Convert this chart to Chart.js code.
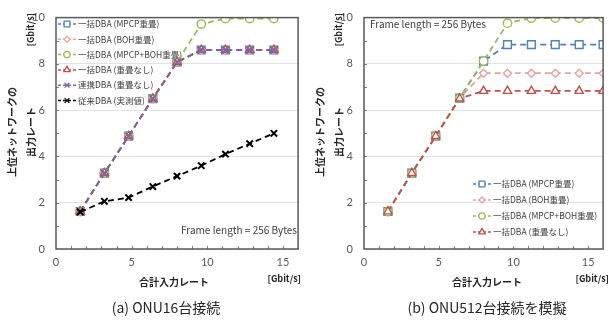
<!DOCTYPE html>
<html>
<head>
<meta charset="utf-8">
<script src="https://cdn.jsdelivr.net/npm/chart.js@4"></script>
<style>
  html, body { margin: 0; padding: 0; background: #fff; }
  #wrap { position: relative; width: 610px; height: 320px; overflow: hidden; }
  canvas { position: absolute; top: 0; }
</style>
</head>
<body>
<div id="wrap">
  <canvas id="c1" width="305" height="320" style="left:0"></canvas>
  <canvas id="c2" width="305" height="320" style="left:305px"></canvas>
</div>
<script>
// 合計入力レート [Gbit/s]
const xLeft = [1.6, 3.2, 4.8, 6.4, 8.0, 9.6, 11.2, 12.8, 14.4];
const xRight = [1.6, 3.2, 4.8, 6.4, 8.0, 9.6, 11.2, 12.8, 14.4, 16.0];

const names = [
  "一括DBA (MPCP重畳)",
  "一括DBA (BOH重畳)",
  "一括DBA (MPCP+BOH重畳)",
  "一括DBA (重畳なし)",
  "連携DBA (重畳なし)",
  "従来DBA (実測値)",
];

// (a) ONU16台接続
const leftMpcp = [1.62, 3.28, 4.88, 6.5, 8.08, 8.6, 8.6, 8.6, 8.6];
const leftBoh = [1.62, 3.28, 4.88, 6.5, 8.08, 8.6, 8.6, 8.6, 8.6];
const leftBoth = [1.62, 3.28, 4.88, 6.5, 8.08, 9.72, 9.96, 9.96, 9.96];
const leftNone = [1.62, 3.28, 4.88, 6.5, 8.08, 8.6, 8.6, 8.6, 8.6];
const leftCoop = [1.62, 3.28, 4.88, 6.5, 8.08, 8.6, 8.6, 8.6, 8.6];
const leftLegacy = [1.6, 2.06, 2.22, 2.7, 3.15, 3.6, 4.1, 4.55, 5.0];

// (b) ONU512台接続を模擬
const rightMpcp = [1.62, 3.28, 4.88, 6.52, 8.12, 8.83, 8.83, 8.83, 8.83, 8.83];
const rightBoh = [1.62, 3.28, 4.88, 6.52, 7.6, 7.6, 7.6, 7.6, 7.6, 7.6];
const rightBoth = [1.62, 3.28, 4.88, 6.52, 8.12, 9.76, 9.98, 9.98, 9.98, 9.98];
const rightNone = [1.62, 3.28, 4.88, 6.5, 6.83, 6.83, 6.83, 6.83, 6.83, 6.83];

const xTicks = [0, 5, 10, 15];
const yTicks = [0, 2, 4, 6, 8, 10];

const colors = ["#4F81BD", "#E6A3A3", "#9BBB59", "#C0504D", "#8064A2", "#000000"];
const marks = ["rect", "rectRot", "circle", "triangle", "crossRot", "crossRot"];
const sizes = [5.5, 4, 4.2, 4.8, 4.5, 4.5];

function series(xs, ys, i, n) {
  return {
    label: names[i],
    data: xs.map((x, k) => ({ x: x, y: ys[k] })),
    borderColor: colors[i],
    backgroundColor: colors[i],
    borderWidth: 1.8,
    borderDash: [6, 4],
    pointStyle: marks[i],
    pointRadius: sizes[i],
    pointBorderWidth: i >= 4 ? 2 : 1.4,
    pointBackgroundColor: "#ffffff",
    pointBorderColor: colors[i],
    order: n - i,
  };
}

function vtext(ctx, s, x, y, align) {
  ctx.save();
  ctx.translate(x, y);
  ctx.rotate(-Math.PI / 2);
  ctx.textAlign = align;
  ctx.fillText(s, 0, 0);
  ctx.restore();
}

const decor = {
  id: "decor",
  beforeDatasetsDraw(chart, args, o) {
    const { ctx } = chart;
    ctx.save();
    ctx.font = "8.5px 'Noto Sans CJK JP'";
    ctx.textBaseline = "middle";
    chart.data.datasets.forEach((ds, i) => {
      const x = o.legendX;
      const y = o.legendY + i * o.legendGap;
      ctx.strokeStyle = ds.borderColor;
      ctx.lineWidth = 1.5;
      ctx.setLineDash([3, 2]);
      ctx.beginPath();
      ctx.moveTo(x, y);
      ctx.lineTo(x + 18, y);
      ctx.stroke();
      ctx.setLineDash([]);
      ctx.fillStyle = "#ffffff";
      ctx.lineWidth = 1.3;
      Chart.helpers.drawPoint(ctx, { pointStyle: ds.pointStyle, radius: ds.pointRadius * 0.75, borderWidth: 1.3, rotation: 0 }, x + 9, y);
      ctx.fillStyle = "#404040";
      ctx.textAlign = "left";
      ctx.fillText(ds.label, x + 20, y);
    });
    // Frame length
    ctx.font = "10px 'Noto Sans CJK JP'";
    ctx.fillStyle = "#404040";
    ctx.textAlign = o.frameAlign;
    ctx.fillText("Frame length = 256 Bytes", o.frameX, o.frameY);
    ctx.restore();
  },
  afterDraw(chart, args, o) {
    const { ctx, chartArea: a } = chart;
    const xs = chart.scales.x, ys = chart.scales.y;
    ctx.save();
    // minor ticks
    ctx.strokeStyle = "#7f7f7f";
    ctx.lineWidth = 1;
    for (let v = 1; v < 16; v++) {
      const px = Math.round(xs.getPixelForValue(v)) + 0.5;
      ctx.beginPath();
      ctx.moveTo(px, a.bottom);
      ctx.lineTo(px, a.bottom - 3);
      ctx.stroke();
    }
    for (let v = 1; v < 10; v++) {
      const py = Math.round(ys.getPixelForValue(v)) + 0.5;
      ctx.beginPath();
      ctx.moveTo(a.left, py);
      ctx.lineTo(a.left + 3, py);
      ctx.stroke();
    }
    // frame
    ctx.strokeStyle = "#595959";
    ctx.lineWidth = 1.5;
    ctx.strokeRect(a.left, a.top, a.right - a.left, a.bottom - a.top);
    // axis titles
    ctx.fillStyle = "#262626";
    ctx.textBaseline = "middle";
    ctx.font = "bold 10px 'Noto Sans CJK JP'";
    vtext(ctx, "上位ネットワークの", a.left - 44, 132, "center");
    vtext(ctx, "出力レート", a.left - 25, 132, "center");
    ctx.font = "bold 9px 'Noto Sans CJK JP'";
    vtext(ctx, "[Gbit/s]", a.left - 25, 13, "right");
    ctx.textAlign = "center";
    ctx.font = "bold 10px 'Noto Sans CJK JP'";
    ctx.fillText("合計入力レート", o.xTitleX, 282);
    ctx.font = "bold 9px 'Noto Sans CJK JP'";
    ctx.textAlign = "right";
    ctx.fillText("[Gbit/s]", a.left + 245, 279);
    // caption
    ctx.font = "14px 'Noto Sans CJK JP'";
    ctx.fillStyle = "#262626";
    ctx.textAlign = "center";
    ctx.fillText(o.caption, o.captionX, 308);
    ctx.restore();
  },
};

function makeChart(id, datasets, plotLeft, plotRight, deco) {
  return new Chart(document.getElementById(id), {
    type: "line",
    data: { datasets: datasets },
    options: {
      responsive: false,
      animation: false,
      layout: { padding: { top: 15, right: 305 - plotRight, left: 0, bottom: 0 } },
      plugins: { legend: { display: false }, tooltip: { enabled: false }, decor: deco },
      scales: {
        x: {
          type: "linear",
          min: 0,
          max: 16,
          afterBuildTicks: (s) => { s.ticks = xTicks.map((v) => ({ value: v })); },
          afterFit: (s) => { s.height = 320 - 249; },
          ticks: { padding: 7, color: "#595959", font: { family: "Lato", size: 11 } },
          grid: { display: false, drawTicks: false },
          border: { display: false },
        },
        y: {
          min: 0,
          max: 10,
          afterBuildTicks: (s) => { s.ticks = yTicks.map((v) => ({ value: v })); },
          afterFit: (s) => { s.width = plotLeft; },
          ticks: { padding: 11, color: "#595959", font: { family: "Lato", size: 11 } },
          grid: { color: "#E3E3E3", lineWidth: 1, drawTicks: false },
          border: { display: false },
        },
      },
    },
    plugins: [decor],
  });
}

makeChart("c1", [
  series(xLeft, leftMpcp, 0, 6),
  series(xLeft, leftBoh, 1, 6),
  series(xLeft, leftBoth, 2, 6),
  series(xLeft, leftNone, 3, 6),
  series(xLeft, leftCoop, 4, 6),
  series(xLeft, leftLegacy, 5, 6),
], 56, 301, {
  legendX: 58, legendY: 24, legendGap: 15.3,
  frameX: 297, frameY: 230, frameAlign: "right",
  xTitleX: 174, caption: "(a) ONU16台接続", captionX: 166,
});

makeChart("c2", [
  series(xRight, rightMpcp, 0, 4),
  series(xRight, rightBoh, 1, 4),
  series(xRight, rightBoth, 2, 4),
  series(xRight, rightNone, 3, 4),
], 59, 304, {
  legendX: 168, legendY: 184, legendGap: 16,
  frameX: 65, frameY: 24, frameAlign: "left",
  xTitleX: 182, caption: "(b) ONU512台接続を模擬", captionX: 182,
});
</script>
</body>
</html>
